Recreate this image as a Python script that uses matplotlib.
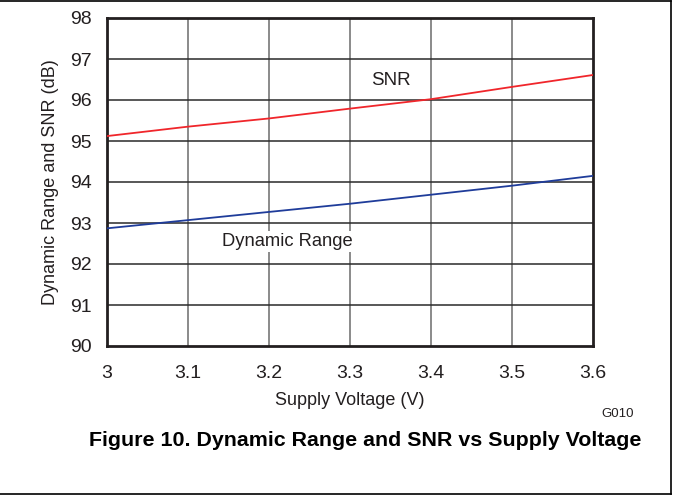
import matplotlib.pyplot as plt
from matplotlib.lines import Line2D

plt.rcParams['font.family'] = ['Liberation Sans', 'DejaVu Sans']

# data
voltage = [3.0, 3.1, 3.2, 3.3, 3.4, 3.5, 3.6]
snr = [95.12, 95.35, 95.55, 95.79, 96.02, 96.32, 96.61]
dyn_range = [92.87, 93.07, 93.27, 93.47, 93.69, 93.91, 94.15]
xticks = [3, 3.1, 3.2, 3.3, 3.4, 3.5, 3.6]
xtick_labels = ['3', '3.1', '3.2', '3.3', '3.4', '3.5', '3.6']
yticks = [90, 91, 92, 93, 94, 95, 96, 97, 98]

W, H = 673, 497
fig = plt.figure(figsize=(W / 100, H / 100), dpi=100)
ax = fig.add_axes([107 / W, 1 - 346 / H, (593 - 107) / W, (346 - 18) / H])

# grid: vertical lines grey, horizontal lines darker
for x in xticks[1:-1]:
    ax.axvline(x, color='#6b6b6b', lw=1.1, zorder=1)
for y in yticks[1:-1]:
    ax.axhline(y, color='#2a2a2a', lw=1.1, zorder=1)

ax.plot(voltage, snr, color='#f0262b', lw=1.3, zorder=3)
ax.plot(voltage, dyn_range, color='#1f3c9a', lw=1.3, zorder=3)

ax.text(3.35, 96.47, 'SNR', ha='center', va='center', fontsize=13.5, color='#231f20',
        bbox=dict(facecolor='white', edgecolor='none', pad=1.5), zorder=4)
ax.text(3.223, 92.56, 'Dynamic Range', ha='center', va='center', fontsize=13.2, color='#231f20',
        bbox=dict(facecolor='white', edgecolor='none', pad=1.5), zorder=4)

ax.set_xlim(3, 3.6)
ax.set_ylim(90, 98)
ax.set_xticks(xticks)
ax.set_xticklabels(xtick_labels)
ax.set_yticks(yticks)
ax.tick_params(length=0, labelsize=14, colors='#231f20')
ax.tick_params(axis='x', pad=14)
ax.tick_params(axis='y', pad=11)
for s in ax.spines.values():
    s.set_linewidth(2)
    s.set_color('#231f20')

ax.set_xlabel('Supply Voltage (V)', fontsize=13, color='#231f20', labelpad=7)
ax.set_ylabel('Dynamic Range and SNR (dB)', fontsize=13, color='#231f20', labelpad=8)

fig.text(618 / W, 1 - 414 / H, 'G010', fontsize=9.5, ha='center', va='center', color='#231f20')
fig.text(365 / W, 1 - 441 / H, 'Figure 10. Dynamic Range and SNR vs Supply Voltage',
         fontsize=15.4, fontweight='bold', ha='center', va='center')

# outer frame: top, right, bottom
fig.add_artist(Line2D([0, 671 / W], [1 - 1 / H, 1 - 1 / H], color='black', lw=1.2))
fig.add_artist(Line2D([671 / W, 671 / W], [1 - 1 / H, 1 - 494 / H], color='black', lw=1.2))
fig.add_artist(Line2D([0, 671 / W], [1 - 494 / H, 1 - 494 / H], color='black', lw=1.2))

fig.savefig('out.png', dpi=100)
